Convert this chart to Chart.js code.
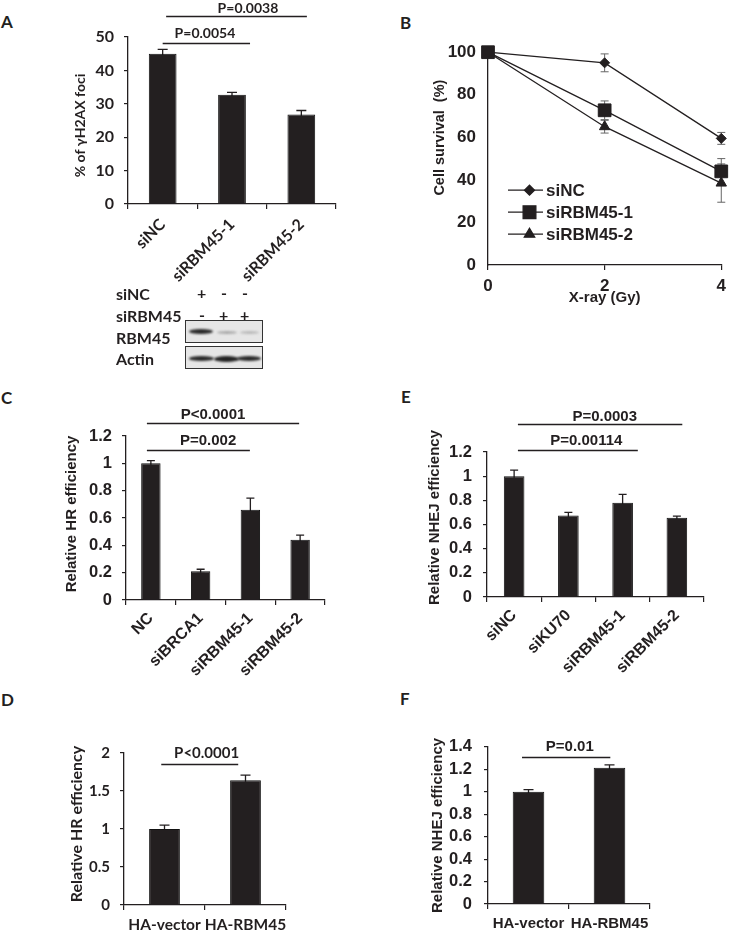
<!DOCTYPE html>
<html>
<head>
<meta charset="utf-8">
<script src="https://cdn.jsdelivr.net/npm/chart.js@4.4.0/dist/chart.umd.min.js"></script>
<style>
  body { margin: 0; background: #fff; }
  #page { position: relative; width: 733px; height: 936px; overflow: hidden; color: #231f20; font-family: Lato, "Open Sans", sans-serif; }
  canvas { position: absolute; }
  .t { position: absolute; font-weight: bold; font-size: 16px; line-height: 18px; white-space: nowrap; }
  .letter { position: absolute; font-weight: bold; font-size: 17px; line-height: 20px; }
  .blot { position: absolute; background: #e6e6e6; border: 1.5px solid #333; box-sizing: border-box; overflow: hidden; }
  .band { position: absolute; border-radius: 50%; filter: blur(0.8px); }
</style>
</head>
<body>
<div id="page">
  <div class="letter" style="left:1px;top:12px">A</div>
  <div class="letter" style="left:400px;top:13px">B</div>
  <div class="letter" style="left:1px;top:388px">C</div>
  <div class="letter" style="left:401px;top:387px">E</div>
  <div class="letter" style="left:1px;top:690px">D</div>
  <div class="letter" style="left:400px;top:689px">F</div>

  <canvas id="chartA"></canvas>
  <canvas id="chartB"></canvas>
  <canvas id="chartC"></canvas>
  <canvas id="chartE"></canvas>
  <canvas id="chartD"></canvas>
  <canvas id="chartF"></canvas>

  <!-- western blot under panel A -->
  <div class="t" style="left:116px;top:285px">siNC</div>
  <div class="t" style="left:116px;top:307px">siRBM45</div>
  <div class="t" style="left:116px;top:329px">RBM45</div>
  <div class="t" style="left:116px;top:350px">Actin</div>
  <div class="t" style="left:197px;top:284px">+</div>
  <div class="t" style="left:221px;top:284px">-</div>
  <div class="t" style="left:242px;top:284px">-</div>
  <div class="t" style="left:199px;top:306px">-</div>
  <div class="t" style="left:219px;top:306px">+</div>
  <div class="t" style="left:240px;top:306px">+</div>
  <div class="blot" style="left:185px;top:320px;width:78px;height:23px">
    <div class="band" style="left:3px;top:8px;width:24px;height:5px;background:#2a2a2a"></div>
    <div class="band" style="left:31px;top:10px;width:20px;height:3px;background:#a8a8a8"></div>
    <div class="band" style="left:54px;top:10px;width:19px;height:3px;background:#b8b8b8"></div>
  </div>
  <div class="blot" style="left:185px;top:346px;width:78px;height:23px">
    <div class="band" style="left:3px;top:9px;width:25px;height:5px;background:#2a2a2a"></div>
    <div class="band" style="left:28px;top:9px;width:25px;height:6px;background:#222"></div>
    <div class="band" style="left:51px;top:9px;width:24px;height:5px;background:#2a2a2a"></div>
  </div>
</div>

<script>
// ---- data ----
// A: gammaH2AX foci
const aLabels = ["siNC", "siRBM45-1", "siRBM45-2"];
const aValues = [45, 32.7, 26.8];
const aErrors = [1.3, 0.7, 1.2];

// B: cell survival after X-ray
const bDoses = [0, 2, 4];
const bSiNC = [100, 95, 59.5];
const bSiNCErr = [0, 4.2, 2.8];
const bSiRBM1 = [100, 72.7, 44];
const bSiRBM1Err = [0, 4.4, 6];
const bSiRBM2 = [100, 65, 38.5];
const bSiRBM2Err = [0, 3, 9];

// C: HR efficiency
const cLabels = ["NC", "siBRCA1", "siRBM45-1", "siRBM45-2"];
const cValues = [1.0, 0.21, 0.66, 0.44];
const cErrors = [0.02, 0.015, 0.085, 0.035];

// E: NHEJ efficiency
const eLabels = ["siNC", "siKU70", "siRBM45-1", "siRBM45-2"];
const eValues = [1.0, 0.675, 0.78, 0.655];
const eErrors = [0.05, 0.025, 0.07, 0.015];

// D: HR efficiency, overexpression
const dLabels = ["HA-vector", "HA-RBM45"];
const dValues = [1.0, 1.64];
const dErrors = [0.05, 0.07];

// F: NHEJ efficiency, overexpression
const fLabels = ["HA-vector", "HA-RBM45"];
const fValues = [1.0, 1.215];
const fErrors = [0.02, 0.025];

const INK = "#231f20";
const CAL = "Lato, 'Open Sans', sans-serif";
const ARL = "'Liberation Sans', Arial, sans-serif";

Chart.defaults.color = INK;

function fmt(v) {
  return String(Number(v.toFixed(2)));
}

// canvas placed so that the chart area lands at box.l/t/r/b
function setBox(cv, b) {
  cv.width = b.r - b.l + b.yW + b.padR;
  cv.height = b.b - b.t + b.padT + b.xH;
  cv.style.left = (b.l - b.yW) + "px";
  cv.style.top = (b.t - b.padT) + "px";
}

const errorBars = {
  id: "errorBars",
  beforeDatasetsDraw(chart, args, opts) {
    const { ctx, scales: { y } } = chart;
    ctx.save();
    ctx.strokeStyle = opts.color || INK;
    ctx.lineWidth = opts.width || 1.2;
    const cap = opts.cap || 5;
    chart.data.datasets.forEach((ds, di) => {
      if (!ds.errors) return;
      chart.getDatasetMeta(di).data.forEach((el, i) => {
        const raw = ds.data[i];
        const v = typeof raw === "object" ? raw.y : raw;
        const e = ds.errors[i];
        if (!e) return;
        const hi = y.getPixelForValue(v + e);
        const lo = y.getPixelForValue(v - e);
        ctx.beginPath();
        ctx.moveTo(el.x, lo);
        ctx.lineTo(el.x, hi);
        ctx.moveTo(el.x - cap, hi);
        ctx.lineTo(el.x + cap, hi);
        ctx.moveTo(el.x - cap, lo);
        ctx.lineTo(el.x + cap, lo);
        ctx.stroke();
      });
    });
    ctx.restore();
  }
};

const brackets = {
  id: "brackets",
  afterDraw(chart, args, opts) {
    if (!opts.items) return;
    const { ctx, scales: { x, y } } = chart;
    ctx.save();
    ctx.strokeStyle = INK;
    ctx.fillStyle = INK;
    ctx.lineWidth = 1.5;
    ctx.font = "bold " + opts.size + "px " + opts.family;
    ctx.textAlign = "center";
    ctx.textBaseline = "middle";
    opts.items.forEach(b => {
      const py = Math.round(y.getPixelForValue(b.y)) + 0.5;
      ctx.beginPath();
      ctx.moveTo(x.getPixelForValue(b.from), py);
      ctx.lineTo(x.getPixelForValue(b.to), py);
      ctx.stroke();
      ctx.fillText(b.text, x.getPixelForValue(b.tx), py - b.dy);
    });
    ctx.restore();
  }
};

// rotated y-axis title, placed from the canvas left edge and the chart-area middle
const yTitle = {
  id: "yTitle",
  afterDraw(chart, args, opts) {
    if (!opts.text) return;
    const { ctx, chartArea: a } = chart;
    ctx.save();
    ctx.fillStyle = INK;
    ctx.font = "bold " + opts.size + "px " + opts.family;
    ctx.textAlign = "center";
    ctx.textBaseline = "middle";
    ctx.translate(opts.x, (a.top + a.bottom) / 2 + opts.dy);
    ctx.rotate(-Math.PI / 2);
    ctx.fillText(opts.text, 0, 0);
    ctx.restore();
  }
};

function drawMarker(ctx, style, r, x, y) {
  if (Chart.helpers && Chart.helpers.drawPoint) {
    Chart.helpers.drawPoint(ctx, { pointStyle: style, radius: r, rotation: 0, borderWidth: 1 }, x, y);
    return;
  }
  ctx.beginPath();
  if (style === "rect") {
    const s = r * Math.SQRT1_2;
    ctx.rect(x - s, y - s, 2 * s, 2 * s);
  } else if (style === "rectRot") {
    ctx.moveTo(x, y - r); ctx.lineTo(x + r, y); ctx.lineTo(x, y + r); ctx.lineTo(x - r, y);
  } else {
    ctx.moveTo(x, y - r); ctx.lineTo(x + r * 0.866, y + r / 2); ctx.lineTo(x - r * 0.866, y + r / 2);
  }
  ctx.closePath();
  ctx.fill();
  ctx.stroke();
}

const insideLegend = {
  id: "insideLegend",
  afterDraw(chart, args, opts) {
    const { ctx, chartArea: a } = chart;
    ctx.save();
    ctx.fillStyle = INK;
    ctx.strokeStyle = INK;
    ctx.font = "bold " + opts.size + "px " + ARL;
    ctx.textBaseline = "middle";
    chart.data.datasets.forEach((ds, i) => {
      const yy = a.top + opts.y + i * opts.gap;
      const x0 = a.left + opts.x;
      ctx.lineWidth = 1.3;
      ctx.beginPath();
      ctx.moveTo(x0, yy);
      ctx.lineTo(x0 + opts.len, yy);
      ctx.stroke();
      drawMarker(ctx, ds.pointStyle, ds.pointRadius, x0 + opts.len / 2 + 4, yy);
      ctx.fillText(ds.label, x0 + opts.len + 3, yy + 1);
    });
    ctx.restore();
  }
};

function barChart(id, p) {
  const cv = document.getElementById(id);
  setBox(cv, p.box);
  const yW = p.box.yW, xH = p.box.xH;
  return new Chart(cv, {
    type: "bar",
    data: {
      labels: p.labels,
      datasets: [{
        data: p.values,
        errors: p.errors,
        backgroundColor: INK,
        borderColor: "#111",
        borderWidth: 1,
        barPercentage: 1,
        categoryPercentage: p.barFrac
      }]
    },
    options: {
      responsive: false,
      animation: false,
      devicePixelRatio: 1,
      layout: { padding: { top: p.box.padT, right: p.box.padR, left: 0, bottom: 0 } },
      plugins: {
        legend: { display: false },
        tooltip: { enabled: false },
        errorBars: { cap: p.cap, width: 1.3 },
        brackets: { items: p.brackets, size: p.pSize, family: p.family },
        yTitle: { text: p.yTitle, size: p.tSize, family: p.family, x: p.tX, dy: p.tDy }
      },
      scales: {
        x: {
          grid: { drawOnChartArea: false, drawTicks: true, tickLength: 5, color: INK, lineWidth: 1.2, offset: true },
          border: { color: INK, width: 1.3 },
          ticks: {
            autoSkip: false, minRotation: p.rot, maxRotation: p.rot, padding: p.xPad,
            color: INK, font: { family: p.family, size: p.xSize, weight: "bold" }
          },
          afterFit(s) { s.height = xH; }
        },
        y: {
          min: 0, max: p.yMax,
          grid: { drawOnChartArea: false, drawTicks: true, tickLength: 4, color: INK, lineWidth: 1.2 },
          border: { color: INK, width: 1.3 },
          ticks: {
            stepSize: p.yStep, autoSkip: false, padding: p.yPad, callback: v => fmt(v),
            color: INK, font: { family: p.family, size: p.ySize, weight: "bold" }
          },
          afterFit(s) { s.width = yW; }
        }
      }
    },
    plugins: [errorBars, brackets, yTitle]
  });
}

// ---- A ----
barChart("chartA", {
  box: { l: 128, t: 37, r: 336, b: 204, yW: 70, xH: 82, padT: 37, padR: 10 },
  labels: aLabels, values: aValues, errors: aErrors, barFrac: 0.40, cap: 5,
  yMax: 50, yStep: 10, family: CAL, ySize: 16, xSize: 16, yPad: 10, xPad: 6, rot: 45,
  yTitle: "% of γH2AX foci", tSize: 14, tX: 22, tDy: 5, pSize: 14,
  brackets: [
    { from: 0, to: 1.26, y: 48.2, text: "P=0.0054", tx: 0.61, dy: 10 },
    { from: 0.05, to: 2.08, y: 56.2, text: "P=0.0038", tx: 1.23, dy: 8 }
  ]
});

// ---- B ----
(function () {
  const cv = document.getElementById("chartB");
  const box = { l: 488, t: 45, r: 722, b: 265, yW: 62, xH: 45, padT: 15, padR: 10 };
  setBox(cv, box);
  const pts = arr => bDoses.map((d, i) => ({ x: d, y: arr[i] }));
  const common = { showLine: true, borderColor: INK, backgroundColor: INK, borderWidth: 1.3, pointBorderWidth: 1, clip: false };
  new Chart(cv, {
    type: "scatter",
    data: {
      datasets: [
        Object.assign({ label: "siNC", data: pts(bSiNC), errors: bSiNCErr, pointStyle: "rectRot", pointRadius: 5 }, common),
        Object.assign({ label: "siRBM45-1", data: pts(bSiRBM1), errors: bSiRBM1Err, pointStyle: "rect", pointRadius: 9 }, common),
        Object.assign({ label: "siRBM45-2", data: pts(bSiRBM2), errors: bSiRBM2Err, pointStyle: "triangle", pointRadius: 6 }, common)
      ]
    },
    options: {
      responsive: false,
      animation: false,
      devicePixelRatio: 1,
      layout: { padding: { top: box.padT, right: box.padR, left: 0, bottom: 0 } },
      plugins: {
        legend: { display: false },
        tooltip: { enabled: false },
        errorBars: { cap: 4, width: 1, color: "#666" },
        insideLegend: { x: 20, y: 138, gap: 22, len: 35, size: 17 },
        yTitle: { text: "Cell survival  (%)", size: 14.5, family: ARL, x: 14, dy: -21 }
      },
      scales: {
        x: {
          type: "linear", min: 0, max: 4,
          grid: { drawOnChartArea: false, drawTicks: true, tickLength: 5, color: INK, lineWidth: 1.2 },
          border: { color: INK, width: 1.3 },
          ticks: { stepSize: 2, padding: 6, color: INK, font: { family: ARL, size: 17, weight: "bold" } },
          title: { display: true, text: "X-ray (Gy)", color: INK, font: { family: ARL, size: 15, weight: "bold" }, padding: { top: 0, bottom: 3 } },
          afterFit(s) { s.height = box.xH; }
        },
        y: {
          min: 0, max: 100,
          grid: { drawOnChartArea: false, drawTicks: false },
          border: { color: INK, width: 1.3 },
          ticks: { stepSize: 20, autoSkip: false, padding: 12, color: INK, font: { family: ARL, size: 17, weight: "bold" } },
          afterFit(s) { s.width = box.yW; }
        }
      }
    },
    plugins: [errorBars, insideLegend, yTitle]
  });
})();

// ---- C ----
barChart("chartC", {
  box: { l: 126, t: 436, r: 325, b: 600, yW: 66, xH: 90, padT: 36, padR: 10 },
  labels: cLabels, values: cValues, errors: cErrors, barFrac: 0.39, cap: 4,
  yMax: 1.2, yStep: 0.2, family: ARL, ySize: 16.5, xSize: 16, yPad: 10, xPad: 4, rot: 45,
  yTitle: "Relative HR efficiency", tSize: 15, tX: 12, tDy: -4, pSize: 15,
  brackets: [
    { from: -0.08, to: 1.99, y: 1.098, text: "P=0.002", tx: 1.15, dy: 10 },
    { from: -0.08, to: 2.98, y: 1.297, text: "P<0.0001", tx: 1.25, dy: 9 }
  ]
});

// ---- E ----
barChart("chartE", {
  box: { l: 487, t: 452, r: 704, b: 597, yW: 68, xH: 90, padT: 47, padR: 10 },
  labels: eLabels, values: eValues, errors: eErrors, barFrac: 0.38, cap: 4,
  yMax: 1.2, yStep: 0.2, family: ARL, ySize: 16.5, xSize: 16, yPad: 11, xPad: 4, rot: 45,
  yTitle: "Relative NHEJ efficiency", tSize: 15, tX: 16, tDy: -7, pSize: 15,
  brackets: [
    { from: 0.07, to: 2.28, y: 1.214, text: "P=0.00114", tx: 1.33, dy: 10 },
    { from: 0.07, to: 3.1, y: 1.434, text: "P=0.0003", tx: 1.67, dy: 8 }
  ]
});

// ---- D ----
barChart("chartD", {
  box: { l: 124, t: 746, r: 286, b: 905, yW: 66, xH: 31, padT: 12, padR: 10 },
  labels: dLabels, values: dValues, errors: dErrors, barFrac: 0.38, cap: 5,
  yMax: 2, yStep: 0.5, family: CAL, ySize: 15, xSize: 15.5, yPad: 10, xPad: 6, rot: 0,
  yTitle: "Relative HR efficiency", tSize: 16, tX: 19, tDy: -5, pSize: 15,
  brackets: [
    { from: -0.04, to: 0.91, y: 1.858, text: "P<0.0001", tx: 0.52, dy: 11 }
  ]
});

// ---- F ----
barChart("chartF", {
  box: { l: 488, t: 737, r: 650, b: 904, yW: 68, xH: 32, padT: 12, padR: 10 },
  labels: fLabels, values: fValues, errors: fErrors, barFrac: 0.39, cap: 5,
  yMax: 1.4, yStep: 0.2, family: ARL, ySize: 16.5, xSize: 15, yPad: 12, xPad: 6, rot: 0,
  yTitle: "Relative NHEJ efficiency", tSize: 15, tX: 18, tDy: 0, pSize: 15,
  brackets: [
    { from: -0.08, to: 1.01, y: 1.313, text: "P=0.01", tx: 0.51, dy: 11 }
  ]
});
</script>
</body>
</html>
